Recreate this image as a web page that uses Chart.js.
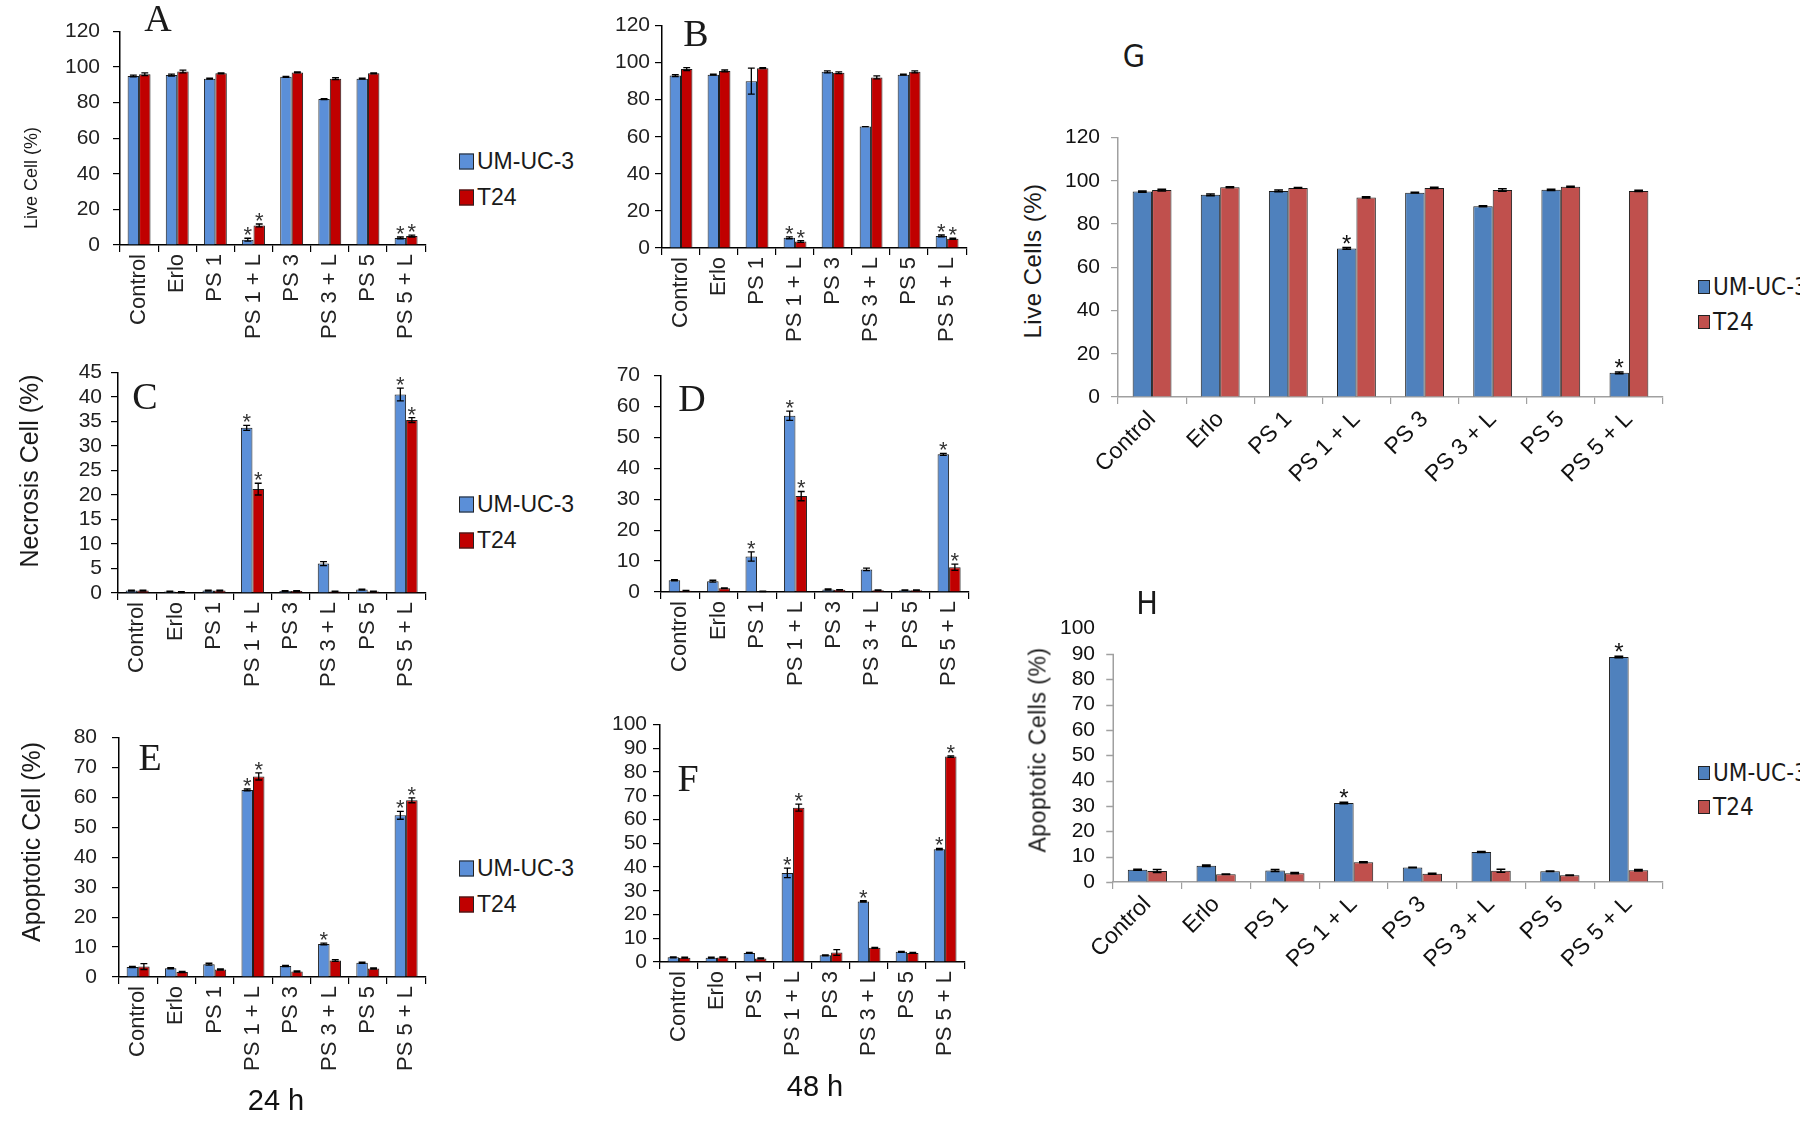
<!DOCTYPE html>
<html><head><meta charset="utf-8">
<script src="https://cdn.jsdelivr.net/npm/chart.js@4.4.1/dist/chart.umd.min.js"></script>
<style>
html,body{margin:0;padding:0;background:#fff;width:1800px;height:1130px;overflow:hidden;position:relative;font-family:'Liberation Sans',Arial,sans-serif;}
canvas{position:absolute;}
.t{position:absolute;white-space:nowrap;color:#1a1a1a;line-height:1;}
.rot{transform:translate(-50%,-50%) rotate(-90deg);}
.ctr{transform:translate(-50%,-50%);}
.lg{position:absolute;display:flex;align-items:center;white-space:nowrap;transform:translateY(-50%);color:#1a1a1a;line-height:1;}
.lg .b{display:inline-block;border:1px solid #222;margin-right:3px;box-sizing:border-box;}
</style></head><body>
<script>
// ---------- DATA ----------
const categories = ['Control','Erlo','PS 1','PS 1 + L','PS 3','PS 3 + L','PS 5','PS 5 + L'];
const seriesNames = ['UM-UC-3','T24'];

// A: Live cell, 24 h
const liveA_UM      = [95, 95.5, 93.5, 3, 94.5, 82, 93.5, 4];
const liveA_T24     = [96, 97.5, 96.5, 11, 97, 93.5, 96.5, 5];
const liveA_UM_err  = [0.5, 0.5, 0.3, 0.8, 0.3, 0.3, 0.3, 0.5];
const liveA_T24_err = [0.8, 0.8, 0.3, 0.8, 0.3, 0.5, 0.3, 0.5];
const liveA_UM_star = [0,0,0,1,0,0,0,1];
const liveA_T24_star= [0,0,0,1,0,0,0,1];
const liveA_ticks   = [0,20,40,60,80,100,120];

// B: Live cell, 48 h
const liveB_UM      = [93, 93.5, 90, 5.5, 95, 65.5, 93.5, 6.5];
const liveB_T24     = [96.5, 95.5, 97, 3.5, 94.5, 92, 95, 5];
const liveB_UM_err  = [0.5, 0.3, 7, 0.5, 0.5, 0, 0.3, 0.5];
const liveB_T24_err = [0.8, 0.5, 0.3, 0.5, 0.5, 0.8, 0.5, 0.3];
const liveB_UM_star = [0,0,0,1,0,0,0,1];
const liveB_T24_star= [0,0,0,1,0,0,0,1];
const liveB_ticks   = [0,20,40,60,80,100,120];

// C: Necrosis cell, 24 h
const necC_UM      = [0.5, 0.3, 0.5, 33.7, 0.4, 6, 0.7, 40.5];
const necC_T24     = [0.5, 0.2, 0.5, 21.2, 0.4, 0.3, 0.3, 35.3];
const necC_UM_err  = [0.1, 0.1, 0.1, 0.5, 0.1, 0.4, 0.1, 1.3];
const necC_T24_err = [0.1, 0.1, 0.1, 1.2, 0.1, 0.1, 0.1, 0.5];
const necC_UM_star = [0,0,0,1,0,0,0,1];
const necC_T24_star= [0,0,0,1,0,0,0,1];
const necC_ticks   = [0,5,10,15,20,25,30,35,40,45];

// D: Necrosis cell, 48 h
const necD_UM      = [3.8, 3.5, 11.5, 57, 0.8, 7.3, 0.6, 44.5];
const necD_T24     = [0.4, 1.2, 0.2, 31, 0.7, 0.6, 0.6, 8];
const necD_UM_err  = [0.2, 0.3, 1.5, 1.5, 0.2, 0.4, 0.1, 0.3];
const necD_T24_err = [0.1, 0.1, 0.1, 1.5, 0.1, 0.1, 0.1, 1.0];
const necD_UM_star = [0,0,1,1,0,0,0,1];
const necD_T24_star= [0,0,0,1,0,0,0,1];
const necD_ticks   = [0,10,20,30,40,50,60,70];

// E: Apoptotic cell, 24 h
const apoE_UM      = [3.3, 2.9, 4.3, 62.5, 3.7, 11, 4.8, 54];
const apoE_T24     = [3.5, 1.7, 2.5, 67, 1.8, 5.5, 2.8, 59];
const apoE_UM_err  = [0.2, 0.2, 0.3, 0.3, 0.2, 0.3, 0.2, 1.3];
const apoE_T24_err = [1.0, 0.2, 0.2, 1.2, 0.2, 0.3, 0.2, 0.8];
const apoE_UM_star = [0,0,0,1,0,1,0,1];
const apoE_T24_star= [0,0,0,1,0,0,0,1];
const apoE_ticks   = [0,10,20,30,40,50,60,70,80];

// F: Apoptotic cell, 48 h
const apoF_UM      = [2, 1.8, 3.8, 37.5, 2.8, 25.5, 4.3, 47.5];
const apoF_T24     = [1.8, 1.9, 1.5, 65, 4, 6, 3.8, 86.5];
const apoF_UM_err  = [0.2, 0.2, 0.2, 2.0, 0.2, 0.3, 0.2, 0.3];
const apoF_T24_err = [0.2, 0.2, 0.2, 1.5, 1.2, 0.2, 0.2, 0.3];
const apoF_UM_star = [0,0,0,1,0,1,0,1];
const apoF_T24_star= [0,0,0,1,0,0,0,1];
const apoF_ticks   = [0,10,20,30,40,50,60,70,80,90,100];

// G: Live cells
const liveG_UM      = [95, 93.5, 95.3, 68.7, 94.5, 88.2, 95.8, 11.2];
const liveG_T24     = [95.7, 97, 96.7, 92.3, 96.7, 95.7, 97.2, 95.3];
const liveG_UM_err  = [0.3, 0.4, 0.4, 0.4, 0.2, 0.2, 0.3, 0.4];
const liveG_T24_err = [0.4, 0.2, 0.2, 0.3, 0.3, 0.6, 0.2, 0.3];
const liveG_UM_star = [0,0,0,1,0,0,0,1];
const liveG_T24_star= [0,0,0,0,0,0,0,0];
const liveG_ticks   = [0,20,40,60,80,100,120];

// H: Apoptotic cells
const apoH_UM      = [4.8, 6.4, 4.5, 31.2, 5.7, 11.8, 4.2, 88.8];
const apoH_T24     = [4.3, 3.1, 3.5, 7.8, 3.3, 4.4, 2.7, 4.6];
const apoH_UM_err  = [0.2, 0.3, 0.4, 0.3, 0.1, 0.2, 0.1, 0.3];
const apoH_T24_err = [0.6, 0.1, 0.2, 0.2, 0.2, 0.6, 0.1, 0.3];
const apoH_UM_star = [0,0,0,1,0,0,0,1];
const apoH_T24_star= [0,0,0,0,0,0,0,0];
const apoH_ticks   = [0,10,20,30,40,50,60,70,80,90,100];
const apoH_axisTop = 90;

// ---------- STYLES ----------
const SANS = "'Liberation Sans', Arial, sans-serif";
const NARROW = "'Liberation Sans Narrow', 'Arial Narrow', 'DejaVu Sans Condensed', 'Liberation Sans', sans-serif";
const styleOld = {
  colors:['#5b8fd8','#c00000'], border:'#1c1c1c', cp:0.6, axis:'#000', aw:1.5,
  tickFont:{family:SANS,size:21,lineHeight:1}, catFont:{family:SANS,size:22}, rot:90, tickColor:'#222',
  xtl:7, ytl:7, cap:0.6, lw:1.3, starFont:'22px '+SANS, starColor:'#333', starLift:4
};
const styleNew = {
  colors:['#4f81bd','#c0504d'], border:'#1c1c1c', cp:0.57, axis:'#a0a0a0', aw:1.5,
  tickFont:{family:SANS,size:21,lineHeight:1}, catFont:{family:SANS,size:23}, rot:45, tickColor:'#111',
  xtl:7, ytl:7, cap:0.45, lw:1.5, starFont:'24px '+SANS, starColor:'#111', starLift:4
};

const errStarPlugin = {
  id:'errStar',
  afterDatasetsDraw(chart, args, o) {
    const ctx = chart.ctx, ys = chart.scales.y;
    if (o.axisTop !== undefined) {
      ctx.save();
      ctx.strokeStyle = o.axisColor; ctx.lineWidth = o.axisWidth;
      const x = Math.round(chart.chartArea.left) + 0.25;
      ctx.beginPath(); ctx.moveTo(x, ys.getPixelForValue(o.axisTop)); ctx.lineTo(x, ys.getPixelForValue(0));
      ys.ticks.forEach(tk => {
        if (tk.value <= o.axisTop) {
          const yy = Math.round(ys.getPixelForValue(tk.value)) + 0.5;
          ctx.moveTo(x - o.tickLen, yy); ctx.lineTo(x, yy);
        }
      });
      ctx.stroke();
      ctx.restore();
    }
    chart.data.datasets.forEach((ds, di) => {
      const meta = chart.getDatasetMeta(di);
      meta.data.forEach((bar, i) => {
        const v = ds.data[i], e = ds.errors[i];
        const yt = ys.getPixelForValue(v + e), yb = ys.getPixelForValue(Math.max(0, v - e));
        const cw = bar.width * o.cap;
        ctx.save();
        ctx.strokeStyle = '#000'; ctx.lineWidth = o.lw;
        ctx.beginPath();
        ctx.moveTo(bar.x, yt); ctx.lineTo(bar.x, yb);
        ctx.moveTo(bar.x - cw/2, yt); ctx.lineTo(bar.x + cw/2, yt);
        ctx.moveTo(bar.x - cw/2, yb); ctx.lineTo(bar.x + cw/2, yb);
        ctx.stroke();
        if (ds.stars[i]) {
          ctx.fillStyle = o.starColor; ctx.font = o.starFont;
          ctx.textAlign = 'center'; ctx.textBaseline = 'alphabetic';
          ctx.fillText('*', bar.x, yt + o.starLift);
        }
        ctx.restore();
      });
    });
  }
};

function makePanel(p) {
  const st = p.style;
  const cv = document.createElement('canvas');
  const w = p.R + p.pr - p.cl, h = p.B + p.xh - p.ct;
  cv.width = w; cv.height = h;
  cv.style.left = p.cl + 'px'; cv.style.top = p.ct + 'px';
  cv.style.width = w + 'px'; cv.style.height = h + 'px';
  document.body.appendChild(cv);
  const t = p.ticks;
  const partialAxis = p.axisTop !== undefined;
  new Chart(cv, {
    type:'bar',
    data:{
      labels: categories,
      datasets:[
        {label:seriesNames[0], data:p.um, errors:p.umErr, stars:p.umStar, backgroundColor:st.colors[0], borderColor:st.border, borderWidth:1},
        {label:seriesNames[1], data:p.t24, errors:p.t24Err, stars:p.t24Star, backgroundColor:st.colors[1], borderColor:st.border, borderWidth:1}
      ]
    },
    options:{
      responsive:false, animation:false, devicePixelRatio:1,
      layout:{padding:{top:p.T - p.ct, right:p.pr, left:0, bottom:0}},
      datasets:{bar:{categoryPercentage:st.cp, barPercentage:1}},
      plugins:{legend:{display:false}, tooltip:{enabled:false},
        errStar:{cap:st.cap, lw:st.lw, starFont:st.starFont, starColor:st.starColor, starLift:st.starLift,
                 axisTop:p.axisTop, axisColor:st.axis, axisWidth:st.aw, tickLen:st.ytl}},
      scales:{
        x:{
          grid:{offset:true, drawOnChartArea:false, drawTicks:true, tickLength:st.xtl, color:st.axis, lineWidth:1.2},
          border:{color:st.axis, width:st.aw},
          ticks:{minRotation:st.rot, maxRotation:st.rot, autoSkip:false, font:st.catFont, color:st.tickColor, padding:2},
          afterFit(s){ s.height = p.xh; }
        },
        y:{
          min:t[0], max:t[t.length-1],
          ticks:{stepSize:t[1]-t[0], autoSkip:false, font:st.tickFont, color:st.tickColor, padding:p.tp},
          grid:{drawOnChartArea:false, drawTicks:!partialAxis, tickLength:st.ytl, color:st.axis, lineWidth:1.2},
          border:{display:!partialAxis, color:st.axis, width:st.aw},
          afterFit(s){ s.width = p.L - p.cl; }
        }
      }
    },
    plugins:[errStarPlugin]
  });
}

const panels = [
  {L:120,R:427,T:23,B:245, cl:20, ct:8, pr:8, xh:110, tp:13, style:styleOld, ticks:liveA_ticks,
   um:liveA_UM, t24:liveA_T24, umErr:liveA_UM_err, t24Err:liveA_T24_err, umStar:liveA_UM_star, t24Star:liveA_T24_star},
  {L:662,R:968,T:25,B:248, cl:580, ct:10, pr:8, xh:110, tp:5, style:styleOld, ticks:liveB_ticks,
   um:liveB_UM, t24:liveB_T24, umErr:liveB_UM_err, t24Err:liveB_T24_err, umStar:liveB_UM_star, t24Star:liveB_T24_star},
  {L:118,R:427,T:368,B:593, cl:40, ct:353, pr:8, xh:110, tp:9, style:styleOld, ticks:necC_ticks,
   um:necC_UM, t24:necC_T24, umErr:necC_UM_err, t24Err:necC_T24_err, umStar:necC_UM_star, t24Star:necC_T24_star},
  {L:661,R:970,T:366,B:592, cl:580, ct:351, pr:8, xh:110, tp:14, style:styleOld, ticks:necD_ticks,
   um:necD_UM, t24:necD_T24, umErr:necD_UM_err, t24Err:necD_T24_err, umStar:necD_UM_star, t24Star:necD_T24_star},
  {L:119,R:427,T:727,B:977, cl:40, ct:712, pr:8, xh:110, tp:15, style:styleOld, ticks:apoE_ticks,
   um:apoE_UM, t24:apoE_T24, umErr:apoE_UM_err, t24Err:apoE_T24_err, umStar:apoE_UM_star, t24Star:apoE_T24_star},
  {L:660,R:966,T:723,B:962, cl:580, ct:708, pr:8, xh:110, tp:6, style:styleOld, ticks:apoF_ticks,
   um:apoF_UM, t24:apoF_T24, umErr:apoF_UM_err, t24Err:apoF_T24_err, umStar:apoF_UM_star, t24Star:apoF_T24_star},
  {L:1118,R:1663,T:131,B:397, cl:1050, ct:116, pr:10, xh:110, tp:11, style:styleNew, ticks:liveG_ticks,
   um:liveG_UM, t24:liveG_T24, umErr:liveG_UM_err, t24Err:liveG_T24_err, umStar:liveG_UM_star, t24Star:liveG_T24_star},
  {L:1113,R:1663,T:615,B:882, cl:1050, ct:600, pr:10, xh:110, tp:18, style:styleNew, ticks:apoH_ticks, axisTop:apoH_axisTop,
   um:apoH_UM, t24:apoH_T24, umErr:apoH_UM_err, t24Err:apoH_T24_err, umStar:apoH_UM_star, t24Star:apoH_T24_star}
];
panels.forEach(makePanel);

// ---------- TEXT OVERLAYS ----------
function addText(txt, x, y, css, rot) {
  const d = document.createElement('div');
  d.className = 't ' + (rot ? 'rot' : 'ctr');
  d.style.left = x + 'px'; d.style.top = y + 'px';
  d.style.cssText += css;
  d.textContent = txt;
  document.body.appendChild(d);
}
const serif = "font-family:'Liberation Serif','Times New Roman',serif;font-size:38px;";
addText('A', 158, 18, serif); addText('B', 696, 33, serif);
addText('C', 145, 396, serif); addText('D', 692, 398, serif);
addText('E', 150, 757, serif); addText('F', 688, 778, serif);
const narrowCss = "font-family:" + NARROW.replace(/"/g,'') + ";";
addText('G', 1134, 56, narrowCss + 'font-size:32px;');
addText('H', 1147, 603, narrowCss + 'font-size:32px;');

addText('Live Cell (%)', 31, 178, 'font-size:18px;', true);
addText('Necrosis Cell (%)', 29, 471, 'font-size:25px;', true);
addText('Apoptotic Cell (%)', 31, 842, 'font-size:25px;', true);
addText('Live Cells (%)', 1033, 261, 'font-size:24px;letter-spacing:0.5px;', true);
addText('Apoptotic Cells (%)', 1038, 750, 'font-size:23px;letter-spacing:0.5px;', true);
addText('24 h', 276, 1100, 'font-size:29px;color:#111;');
addText('48 h', 815, 1086, 'font-size:29px;color:#111;');

function addLegend(x, ys, st, font, bw, bh) {
  seriesNames.forEach((n, i) => {
    const d = document.createElement('div');
    d.className = 'lg';
    d.style.left = x + 'px'; d.style.top = ys[i] + 'px'; d.style.font = font;
    const b = document.createElement('span');
    b.className = 'b'; b.style.width = bw + 'px'; b.style.height = bh + 'px'; b.style.background = st.colors[i];
    d.appendChild(b);
    d.appendChild(document.createTextNode(n));
    document.body.appendChild(d);
  });
}
addLegend(459, [161, 197], styleOld, '23px ' + SANS, 15, 16);
addLegend(459, [504, 540], styleOld, '23px ' + SANS, 15, 16);
addLegend(459, [868, 904], styleOld, '23px ' + SANS, 15, 16);
addLegend(1698, [287, 322], styleNew, '24px ' + NARROW, 12, 14);
addLegend(1698, [773, 807], styleNew, '24px ' + NARROW, 12, 14);
</script>
</body></html>
